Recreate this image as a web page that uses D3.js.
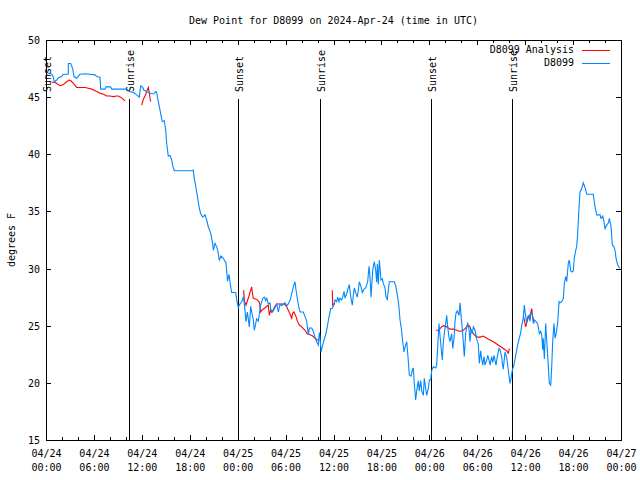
<!DOCTYPE html>
<html>
<head>
<meta charset="utf-8">
<script src="https://cdn.jsdelivr.net/npm/d3@7"></script>
<style>
  html, body { margin: 0; padding: 0; background: #ffffff; }
  svg { display: block; }
  text { font-family: "DejaVu Sans Mono", "Liberation Mono", monospace; font-size: 10px; fill: #000; }
</style>
</head>
<body>
<svg id="chart" width="640" height="480"></svg>
<script>
// ---------------- DATA ----------------
const titleText = "Dew Point for D8099 on 2024-Apr-24 (time in UTC)";
const yLabelText = "degrees F";
const seriesNames = ["D8099 Analysis", "D8099"];
const seriesColors = ["#ff0000", "#0088ff"];

// x = hours since 04/24 00:00 UTC
const xTickHours = [0, 6, 12, 18, 24, 30, 36, 42, 48, 54, 60, 66, 72];
const xTickDates = ["04/24", "04/24", "04/24", "04/24", "04/25", "04/25", "04/25", "04/25", "04/26", "04/26", "04/26", "04/26", "04/27"];
const xTickTimes = ["00:00", "06:00", "12:00", "18:00", "00:00", "06:00", "12:00", "18:00", "00:00", "06:00", "12:00", "18:00", "00:00"];
const yTicks = [15, 20, 25, 30, 35, 40, 45, 50];

const sunLabels = ["Sunset", "Sunrise", "Sunset", "Sunrise", "Sunset", "Sunrise"];
const sunHours = [0.02, 10.43, 24.08, 34.31, 48.17, 58.39];

// D8099 observations
const blueHours = [0.09,0.50,0.84,1.04,1.34,1.54,1.97,2.17,2.79,2.80,3.09,3.34,3.51,3.84,4.26,4.88,6.14,6.35,6.76,6.85,7.39,7.51,8.10,8.23,10.11,10.43,10.93,11.36,11.68,11.86,12.11,12.27,12.61,12.81,13.24,13.52,13.74,13.86,13.94,14.19,14.40,14.56,14.69,14.81,14.99,15.11,15.31,15.53,15.74,15.87,16.07,18.37,18.45,18.53,18.75,19.00,19.16,19.37,19.62,19.91,20.12,20.32,20.62,20.87,20.95,21.16,21.38,21.50,21.70,21.91,22.20,22.54,22.73,22.92,23.10,23.25,23.75,23.95,24.08,24.29,24.51,24.71,24.79,24.92,25.04,25.21,25.33,25.46,25.63,25.76,25.96,26.08,26.26,26.38,26.58,26.71,26.88,27.14,27.34,27.51,27.64,27.84,28.05,28.14,28.34,28.46,28.68,28.89,29.09,29.30,29.51,29.72,29.93,30.14,30.34,30.55,30.77,30.97,31.18,31.31,31.47,31.64,31.81,32.22,32.43,32.64,32.85,32.97,33.27,33.47,33.68,33.90,34.10,34.22,34.31,34.44,34.60,34.81,35.02,35.22,35.44,35.65,35.85,36.06,36.19,36.40,36.53,36.69,36.81,37.03,37.15,37.32,37.44,37.65,37.85,37.98,38.15,38.35,38.48,38.61,38.78,38.98,39.11,39.23,39.41,39.61,39.82,40.03,40.16,40.28,40.45,40.57,40.70,40.91,40.99,41.11,41.29,41.41,41.49,41.61,41.74,41.95,42.11,42.24,42.45,42.57,42.74,42.86,42.99,43.29,43.61,43.79,43.99,44.17,44.33,44.52,44.67,44.83,44.95,45.17,45.37,45.49,45.71,45.87,45.99,46.12,46.29,46.42,46.62,46.74,46.92,47.05,47.25,47.37,47.55,47.67,47.87,48.00,48.17,48.30,48.50,48.80,48.92,49.05,49.21,49.34,49.46,49.62,49.75,49.87,50.05,50.18,50.30,50.46,50.59,50.80,50.93,51.09,51.22,51.34,51.50,51.72,51.84,51.97,52.13,52.25,52.38,52.55,52.68,52.80,52.97,53.09,53.22,53.38,53.51,53.72,53.93,54.13,54.26,54.43,54.56,54.68,54.85,54.97,55.19,55.31,55.47,55.60,55.81,55.94,56.10,56.35,56.51,56.73,56.85,57.06,57.14,57.26,57.48,57.69,57.89,58.10,58.23,58.39,58.60,58.82,59.02,59.23,59.44,59.57,59.77,59.89,60.07,60.19,60.32,60.48,60.61,60.73,60.90,61.02,61.14,61.32,61.52,61.65,61.77,61.95,62.07,62.20,62.27,62.40,62.57,62.70,62.90,63.02,63.20,63.32,63.45,63.61,63.74,63.95,64.08,64.24,64.36,64.58,64.78,64.90,65.08,65.20,65.40,65.53,65.70,65.90,66.03,66.15,66.33,66.45,66.58,66.74,66.87,67.08,67.28,67.49,67.71,67.91,68.53,68.75,68.96,69.37,69.50,69.71,69.87,70.00,70.21,70.42,70.54,70.75,70.91,71.12,71.25,71.38,71.59,71.87];
const blueValues = [47.0,47.1,46.9,46.35,46.5,46.7,46.8,47.0,47.0,47.95,47.95,47.5,46.8,46.65,47.0,47.05,46.95,46.8,46.75,45.7,45.7,45.9,45.9,45.7,45.7,45.5,45.4,45.2,45.0,46.0,45.85,45.6,45.5,45.4,45.3,45.3,45.5,45.4,45.05,44.2,43.4,42.85,42.9,42.95,42.1,40.96,39.85,39.9,39.5,38.98,38.56,38.56,38.6,38.04,37.2,36.15,35.4,34.8,34.5,34.7,34.25,33.66,33.1,32.2,31.6,32.2,31.9,31.6,30.75,31.1,30.9,30.5,28.9,29.5,28.5,27.9,27.9,27.0,26.6,26.9,27.1,27.5,27.2,26.3,25.35,26.2,25.6,24.9,26.7,26.2,25.5,24.6,25.2,25.6,25.4,26.0,26.8,27.4,27.5,27.2,27.4,26.9,27.0,26.4,26.2,26.3,26.6,26.9,26.2,26.9,26.75,26.9,27.0,26.75,26.9,27.2,27.8,28.4,28.85,28.1,27.4,26.7,26.2,26.2,25.8,25.4,24.2,24.8,24.8,24.5,24.0,23.6,23.3,24.4,24.0,22.7,23.2,23.75,24.2,24.9,25.8,26.5,26.5,26.8,27.25,27.1,27.5,27.1,27.4,27.25,27.5,28.0,27.4,27.8,28.3,28.6,27.6,26.8,27.6,28.3,27.9,27.5,28.1,28.85,28.5,27.9,28.2,28.3,28.6,28.85,30.2,29.3,27.5,29.8,30.2,30.6,29.8,28.8,30.4,28.6,30.75,29.0,29.1,28.7,28.3,27.5,27.3,28.1,28.85,28.85,28.85,28.5,27.7,26.8,25.5,24.6,23.6,22.7,23.1,23.6,21.9,20.7,20.6,21.1,21.3,19.9,18.5,19.3,20.2,19.3,20.2,19.3,18.9,20.4,19.5,18.9,19.5,20.25,20.25,21.1,21.4,21.3,21.55,23.2,25.2,24.1,23.2,22.0,23.5,24.3,25.2,25.9,24.9,24.0,23.6,24.3,23.0,23.9,25.4,26.1,26.3,25.9,27.0,25.9,24.7,23.6,22.3,24.3,24.9,25.2,24.7,23.6,24.7,24.3,24.9,24.6,23.8,23.4,21.7,22.8,22.1,21.55,22.3,21.55,22.0,22.4,22.0,21.55,22.3,21.8,22.4,21.55,22.3,23.0,22.9,22.3,21.7,21.2,22.7,22.2,21.1,19.96,20.4,21.1,21.6,22.4,23.2,23.8,24.4,25.0,25.7,26.8,25.8,25.2,25.8,25.9,25.4,26.1,26.0,25.2,25.5,25.4,25.2,24.9,24.3,24.5,24.2,22.9,23.9,22.1,25.2,23.7,21.4,19.96,19.8,21.3,23.7,25.2,23.9,24.6,25.3,27.1,27.0,27.1,27.4,28.7,29.3,28.85,30.45,30.75,29.8,29.7,29.8,30.9,31.6,31.9,33.1,35.3,36.7,37.0,37.5,37.1,36.5,36.5,36.5,35.4,34.7,34.7,34.4,34.6,34.1,33.5,33.8,34.0,34.4,33.7,32.1,31.9,31.6,30.9,30.3,30.0];

// D8099 Analysis (null = gap)
const redHours = [0.71,1.13,1.34,1.75,2.17,2.59,2.88,3.09,3.42,3.84,4.47,4.88,5.17,5.72,6.35,6.76,7.18,7.60,8.01,8.43,8.85,9.05,9.35,9.68,9.89,null,11.98,12.18,12.40,12.61,12.81,12.94,13.02,13.11,null,24.76,24.83,25.04,25.33,25.54,25.76,25.83,25.96,26.38,26.71,26.88,27.09,27.42,27.64,27.84,27.96,28.14,28.26,28.46,28.68,28.89,29.30,29.72,30.02,30.14,30.34,30.55,30.77,30.89,31.05,31.31,31.47,31.72,32.02,32.43,32.72,33.06,33.40,33.68,33.97,34.22,null,35.85,35.90,36.19,null,48.84,49.12,49.34,49.55,49.75,50.18,50.59,51.00,51.43,51.84,52.25,52.68,52.88,53.09,53.30,53.51,53.93,54.35,54.76,55.19,55.60,56.01,56.44,56.85,57.26,57.69,57.89,58.02,null,59.77,59.98,60.07,60.19,60.39,60.61,60.82,60.94,61.11];
const redValues = [46.3,46.3,46.2,46.0,46.1,46.35,46.5,46.45,46.2,45.85,45.85,45.85,45.8,45.7,45.5,45.35,45.25,45.1,45.1,45.05,45.1,45.1,45.0,44.8,44.66,null,44.3,44.8,45.1,45.5,45.85,45.4,44.9,44.6,null,28.1,27.2,26.8,27.4,27.9,28.4,27.9,27.4,27.3,27.1,26.2,26.4,26.55,26.7,26.8,25.9,26.4,26.2,26.4,26.7,26.9,26.9,26.9,26.8,26.65,26.35,26.05,25.65,26.1,26.2,25.8,25.4,25.06,24.9,24.6,24.3,24.2,24.1,23.9,23.75,23.75,null,28.1,26.8,27.0,null,24.6,24.6,24.75,24.9,25.0,24.9,24.7,24.7,24.6,24.5,24.6,24.9,25.06,24.9,24.5,24.3,24.0,24.0,24.1,23.9,23.75,23.6,23.4,23.2,23.0,22.8,22.6,23.0,null,25.9,25.2,24.9,25.3,25.7,25.9,26.5,25.8,25.2];

// ---------------- DRAW ----------------
const svg = d3.select("#chart");
const L = 46, R = 621, T = 40, B = 440;
const x = d3.scaleLinear().domain([0, 72]).range([L, R]);
const y = d3.scaleLinear().domain([15, 50]).range([B, T]);

const minorHours = d3.range(0, 73, 2).filter(h => h % 6 !== 0);

// title & y label
svg.append("text").attr("x", (L + R) / 2).attr("y", 20)
  .attr("text-anchor", "middle").attr("dominant-baseline", "central").text(titleText);
svg.append("text").attr("transform", `translate(11,${(T + B) / 2}) rotate(-90)`)
  .attr("text-anchor", "middle").attr("dominant-baseline", "central").text(yLabelText);

function styleAxis(g) {
  g.select(".domain").remove();
  g.selectAll(".tick line").attr("stroke", "#000").attr("shape-rendering", "crispEdges");
  g.selectAll("text").style("font-family", "DejaVu Sans Mono, monospace").style("font-size", "10px");
}

// bottom major with labels
const gx = svg.append("g").attr("transform", `translate(0,${B})`)
  .call(d3.axisBottom(x).tickValues(xTickHours).tickSizeInner(-5).tickSizeOuter(0).tickPadding(0).tickFormat(() => ""))
  .call(styleAxis);
gx.selectAll(".tick text").each(function(d, i) {
  const t = d3.select(this).attr("y", 0).attr("dy", null);
  t.append("tspan").attr("x", 0).attr("y", 13).attr("dominant-baseline", "central").text(xTickDates[i]);
  t.append("tspan").attr("x", 0).attr("y", 27).attr("dominant-baseline", "central").text(xTickTimes[i]);
});
svg.append("g").attr("transform", `translate(0,${B})`)
  .call(d3.axisBottom(x).tickValues(minorHours).tickSizeInner(-3).tickSizeOuter(0).tickFormat(() => ""))
  .call(styleAxis);
// top mirror
svg.append("g").attr("transform", `translate(0,${T})`)
  .call(d3.axisTop(x).tickValues(xTickHours).tickSizeInner(-5).tickSizeOuter(0).tickFormat(() => ""))
  .call(styleAxis);
svg.append("g").attr("transform", `translate(0,${T})`)
  .call(d3.axisTop(x).tickValues(minorHours).tickSizeInner(-3).tickSizeOuter(0).tickFormat(() => ""))
  .call(styleAxis);
// left / right
svg.append("g").attr("transform", `translate(${L},0)`)
  .call(d3.axisLeft(y).tickValues(yTicks).tickSizeInner(-5).tickSizeOuter(0).tickPadding(6).tickFormat(d3.format("d")))
  .call(styleAxis)
  .selectAll(".tick text").attr("dy", null).attr("dominant-baseline", "central");
svg.append("g").attr("transform", `translate(${R},0)`)
  .call(d3.axisRight(y).tickValues(yTicks).tickSizeInner(-5).tickSizeOuter(0).tickFormat(() => ""))
  .call(styleAxis);

// border
svg.append("rect").attr("x", L + 0.5).attr("y", T + 0.5).attr("width", R - L).attr("height", B - T)
  .attr("fill", "none").attr("stroke", "#000").attr("shape-rendering", "crispEdges");

// sunrise / sunset markers
const sun = svg.append("g");
sunHours.forEach((h, i) => {
  const sx = Math.round(x(h)) + 0.5;
  sun.append("line").attr("x1", sx).attr("x2", sx).attr("y1", 99).attr("y2", B)
    .attr("stroke", "#000").attr("shape-rendering", "crispEdges");
  sun.append("text").attr("transform", `translate(${sx + 1},92) rotate(-90)`)
    .attr("text-anchor", "start").attr("dominant-baseline", "central").text(sunLabels[i]);
});

// series
const lineGen = d3.line()
  .defined(d => d[0] !== null && d[1] !== null)
  .x(d => x(d[0])).y(d => y(d[1]));

const redData = redHours.map((h, i) => [h, redValues[i]]);
const blueData = blueHours.map((h, i) => [h, blueValues[i]]);

svg.append("path").datum(redData).attr("d", lineGen)
  .attr("fill", "none").attr("stroke", seriesColors[0]).attr("stroke-width", 1.1);
svg.append("path").datum(blueData).attr("d", lineGen)
  .attr("fill", "none").attr("stroke", seriesColors[1]).attr("stroke-width", 1.1);

// legend
const legendY = [49.5, 62.5];
seriesNames.forEach((name, i) => {
  svg.append("text").attr("x", 574).attr("y", legendY[i])
    .attr("text-anchor", "end").attr("dominant-baseline", "central").text(name);
  svg.append("line").attr("x1", 582).attr("x2", 610).attr("y1", Math.round(legendY[i]) + 0.5).attr("y2", Math.round(legendY[i]) + 0.5)
    .attr("stroke", seriesColors[i]).attr("stroke-width", 1).attr("shape-rendering", "crispEdges");
});
</script>
</body>
</html>
